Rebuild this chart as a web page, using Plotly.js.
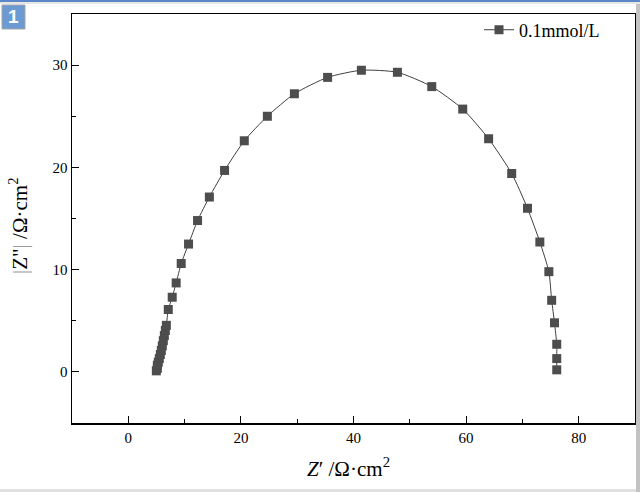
<!DOCTYPE html>
<html>
<head>
<meta charset="utf-8">
<script src="https://cdn.plot.ly/plotly-3.0.1.min.js"></script>
<style>html,body{margin:0;padding:0;background:#fff;}#chart{width:640px;height:492px;}</style>
</head>
<body>
<div id="chart"></div>
<script>
// Nyquist data, Z' (Ω·cm²) and |Z''| (Ω·cm²)
const zReal = [4.98, 5.16, 5.16, 5.33, 5.51, 5.69, 5.87, 6.04, 6.22, 6.40, 6.58, 6.76, 7.1, 7.8, 8.5, 9.4, 10.7, 12.3, 14.4, 17.1, 20.6, 24.7, 29.5, 35.4, 41.4, 47.8, 53.9, 59.4, 64.0, 68.1, 70.9, 73.1, 74.7, 75.2, 75.7, 76.1, 76.1, 76.1];
const zImag = [0.10, 0.35, 0.65, 0.95, 1.30, 1.70, 2.10, 2.55, 3.05, 3.55, 4.05, 4.55, 6.1, 7.3, 8.7, 10.6, 12.5, 14.8, 17.1, 19.7, 22.6, 25.0, 27.2, 28.8, 29.5, 29.3, 27.9, 25.7, 22.8, 19.4, 16.0, 12.7, 9.8, 7.0, 4.8, 2.7, 1.3, 0.2];
const seriesName = '0.1mmol/L';
const xTicks = [0, 20, 40, 60, 80];
const yTicks = [0, 10, 20, 30];
const xTitle = '<i>Z</i>′ /Ω·cm<sup>2</sup>';
const yTitle = '<span style="color:#9a9a9a">|</span>Z"<span style="color:#9a9a9a">|</span> /Ω·cm<sup>2</sup>';

const font = 'Liberation Serif, Times New Roman, serif';
const PW = 563, PH = 409, L = 72, T = 14;
const px = v => (v - L) / PW;
const py = v => (T + PH - v) / PH;

const trace = {
  x: zReal, y: zImag, name: seriesName,
  type: 'scatter', mode: 'lines+markers',
  line: {color: '#3f3f3f', width: 1, shape: 'spline', smoothing: 0.6},
  marker: {symbol: 'square', size: 9, color: '#4d4d4d', line: {width: 0}}
};

const layout = {
  width: 640, height: 492,
  margin: {l: 72, r: 5, t: 14, b: 69},
  paper_bgcolor: '#fff', plot_bgcolor: '#fff',
  font: {family: font, color: '#000', size: 15},
  showlegend: true,
  legend: {x: px(479), y: 1.006, xanchor: 'left', yanchor: 'top', bgcolor: 'rgba(0,0,0,0)', borderwidth: 0,
           font: {family: font, size: 18, color: '#000'}},
  xaxis: {
    range: [-10, 90], tickvals: xTicks, ticks: 'inside', ticklen: 7, tickwidth: 1, tickcolor: '#000',
    showgrid: false, zeroline: false, showline: true, linecolor: '#000', linewidth: 1.5, mirror: true,
    minor: {dtick: 10, ticks: 'inside', ticklen: 4, tickcolor: '#000', tickwidth: 1},
    tickfont: {family: font, size: 15, color: '#000'}
  },
  yaxis: {
    range: [-5, 35], tickvals: yTicks, ticks: 'inside', ticklen: 7, tickwidth: 1, tickcolor: '#000',
    showgrid: false, zeroline: false, showline: true, linecolor: '#000', linewidth: 1.5, mirror: true,
    minor: {dtick: 5, ticks: 'inside', ticklen: 4, tickcolor: '#000', tickwidth: 1},
    tickfont: {family: font, size: 15, color: '#000'}
  },
  shapes: [
    {type: 'rect', xref: 'paper', yref: 'paper', x0: px(0), x1: px(640), y0: py(0), y1: py(2), fillcolor: '#5b87c9', line: {width: 0}, layer: 'above'},
    {type: 'rect', xref: 'paper', yref: 'paper', x0: px(0), x1: px(640), y0: py(2), y1: py(4), fillcolor: '#e6e6e6', line: {width: 0}, layer: 'above'},
    {type: 'rect', xref: 'paper', yref: 'paper', x0: px(636), x1: px(640), y0: py(4), y1: py(492), fillcolor: '#c3c3c3', line: {width: 0}, layer: 'above'},
    {type: 'rect', xref: 'paper', yref: 'paper', x0: px(0), x1: px(636), y0: py(489), y1: py(492), fillcolor: '#e0e0e0', line: {width: 0}, layer: 'above'},
    {type: 'rect', xref: 'paper', yref: 'paper', x0: px(2), x1: px(25), y0: py(5), y1: py(29), fillcolor: '#6b9bd2', line: {width: 1, color: '#a5a5a5'}, layer: 'above'}
  ],
  annotations: [
    {xref: 'paper', yref: 'paper', x: px(13.5), y: py(17), xanchor: 'center', yanchor: 'middle', text: '<b>1</b>', showarrow: false,
     font: {family: 'Liberation Sans, Arial, sans-serif', size: 19, color: '#fff'}},
    {xref: 'paper', yref: 'paper', x: px(348), y: py(467), xanchor: 'center', yanchor: 'middle', text: xTitle, showarrow: false,
     font: {family: font, size: 21, color: '#000'}},
    {xref: 'paper', yref: 'paper', x: px(19), y: py(226), xanchor: 'center', yanchor: 'middle', text: yTitle, showarrow: false, textangle: -90,
     font: {family: font, size: 21, color: '#000'}}
  ]
};

Plotly.newPlot('chart', [trace], layout, {displayModeBar: false, staticPlot: true});
</script>
</body>
</html>
